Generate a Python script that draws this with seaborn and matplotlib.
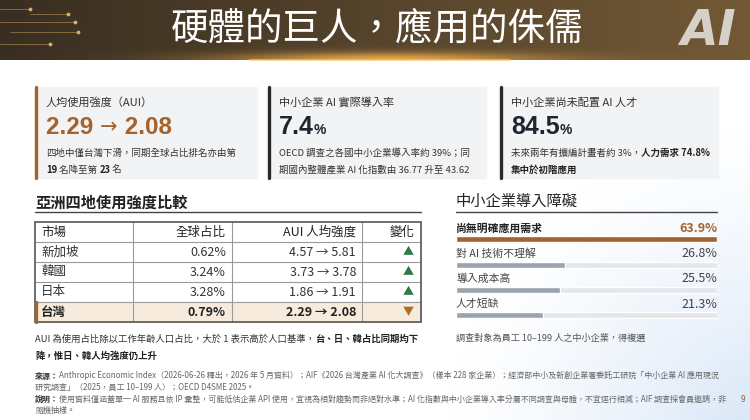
import numpy as np
import pandas as pd
import matplotlib
matplotlib.use('Agg')
import matplotlib.pyplot as plt
import seaborn as sns

# ---- 資料 ----
title = '硬體的巨人，應用的侏儒'

aui_before, aui_after = 2.29, 2.08
rank_before, rank_after = 19, 23
adopt_rate = 7.4
oecd_rate = 39
ai_index_before, ai_index_after = 36.77, 43.62
talent_gap = 84.5
expand_plan = 3
junior_demand = 74.8

table_header = ['市場', '全球占比', 'AUI 人均強度', '變化']
markets = ['新加坡', '韓國', '日本', '台灣']
global_share = [0.62, 3.24, 3.28, 0.79]
aui_2025 = [4.57, 3.73, 1.86, 2.29]
aui_2026 = [5.81, 3.78, 1.91, 2.08]

barriers = ['尚無明確應用需求', '對 AI 技術不理解', '導入成本高', '人才短缺']
barrier_pct = [63.9, 26.8, 25.5, 21.3]

# ---- 樣式 ----
sns.set_theme(style='white')
plt.rcParams['font.family'] = ['Noto Sans CJK TC', 'DejaVu Sans']
plt.rcParams['axes.unicode_minus'] = False

BROWN = '#a5622b'
DARK = '#1f2430'
GRAY = '#555555'
CARD = '#f2f3f5'
NUM_FONT = ['Liberation Sans', 'Noto Sans CJK TC', 'DejaVu Sans']

fig = plt.figure(figsize=(7.5, 4.2), dpi=100)
fig.patch.set_facecolor('white')
ov = fig.add_axes([0, 0, 1, 1])
ov.set_xlim(0, 750)
ov.set_ylim(420, 0)
ov.axis('off')
renderer = fig.canvas.get_renderer()


def rich(x, y, parts, size, va='baseline', family=None):
    # 依序接續繪製不同粗細 / 顏色 / 字級 / 字型的文字片段
    for part in parts:
        s, weight, color = part[:3]
        fs = part[3] if len(part) > 3 and part[3] else size
        fam = part[4] if len(part) > 4 else family
        kw = {'family': fam} if fam else {}
        t = ov.text(x, y, s, fontsize=fs, fontweight=weight, color=color,
                    ha='left', va=va, zorder=5, **kw)
        x += t.get_window_extent(renderer).width
    return x


# 背景右下角的淡藍光暈
yy, xx = np.mgrid[0:420, 0:750]
d = np.hypot(xx - 770, yy - 450) / 330
glow = np.zeros((420, 750, 4))
glow[..., 0], glow[..., 1], glow[..., 2] = 0.78, 0.86, 0.96
glow[..., 3] = np.clip(1 - d, 0, 1) ** 1.3 * 0.75
ov.imshow(glow, extent=(0, 750, 420, 0), aspect='auto', zorder=0)

# 標題列漸層
hx = np.linspace(0, 1, 750)[None, :, None]
hy = np.linspace(0, 1, 60)[:, None, None]
left = np.array([0.22, 0.18, 0.13])
right = np.array([0.45, 0.35, 0.21])
head = left + (right - left) * hx + 0 * hy
spot = np.exp(-((np.arange(750) - 380) / 160) ** 2)[None, :, None] * np.exp(-((1 - hy) / 0.12) ** 2)
head = np.clip(head + spot * np.array([0.55, 0.38, 0.12]), 0, 1)
ov.imshow(head, extent=(0, 750, 60, 0), aspect='auto', zorder=1)
ov.plot([250, 510], [59.5, 59.5], color='#f4c46a', lw=1.2, alpha=0.8, zorder=2)
for yl, x0, x1 in [(9, 0, 30), (14, 30, 68), (22, 0, 75), (32, 10, 78), (44, 0, 50)]:
    ov.plot([x0, x1], [yl, yl], color='#c9a25a', lw=0.6, alpha=0.6, zorder=2)
    ov.plot([x1], [yl], 'o', ms=1.8, color='#e8c072', alpha=0.8, zorder=2)
ov.text(377, 29, title, fontsize=27, color='white', ha='center', va='center', zorder=5)
ov.text(708, 31, 'AI', fontsize=35, color='#d5d0c8', fontweight='bold', fontstyle='italic',
        family='DejaVu Sans', ha='center', va='center', zorder=5)

# ---- 三張指標卡 ----
cards = [(35, 257, BROWN), (268, 486, '#2a2a2a'), (500, 718, '#2a2a2a')]
for x0, x1, edge in cards:
    ov.add_patch(plt.Rectangle((x0, 87), x1 - x0, 91, color=CARD, zorder=2))
    ov.plot([x0 + 1, x0 + 1], [87, 178], color=edge, lw=2.4, zorder=3)

ov.text(46, 105.5, '人均使用強度（AUI）', fontsize=8, color='#333', va='baseline', zorder=5)
rich(46, 133.5, [(f'{aui_before:.2f} ', 'bold', BROWN),
                 ('→', 'normal', BROWN, 15, 'DejaVu Sans'),
                 (f' {aui_after:.2f}', 'bold', BROWN)], 17.5, family=NUM_FONT)
rich(46, 156, [('四地中僅台灣下滑，同期全球占比排名亦由第', 'normal', '#333')], 6.8)
rich(46, 173, [(f'{rank_before}', 'bold', '#222'), (' 名降至第 ', 'normal', '#333'),
               (f'{rank_after}', 'bold', '#222'), (' 名', 'normal', '#333')], 6.8)

ov.text(279, 105.5, '中小企業 AI 實際導入率', fontsize=8, color='#333', va='baseline', zorder=5)
rich(279, 133.5, [(f'{adopt_rate}', 'bold', DARK), ('%', 'bold', DARK, 10)], 18, family=NUM_FONT)
rich(279, 156, [(f'OECD 調查之各國中小企業導入率約 {oecd_rate}%；同', 'normal', '#333')], 6.8)
rich(279, 173, [(f'期國內整體產業 AI 化指數由 {ai_index_before} 升至 {ai_index_after}', 'normal', '#333')], 6.8)

ov.text(511, 105.5, '中小企業尚未配置 AI 人才', fontsize=8, color='#333', va='baseline', zorder=5)
rich(511, 133.5, [(f'{talent_gap}', 'bold', DARK), ('%', 'bold', DARK, 10)], 18, family=NUM_FONT)
rich(511, 156, [(f'未來兩年有擴編計畫者約 {expand_plan}%，', 'normal', '#333'),
                (f'人力需求 {junior_demand}%', 'bold', '#222')], 6.8)
rich(511, 173, [('集中於初階應用', 'bold', '#222')], 6.8)

# ---- 左：亞洲四地表格 ----
ov.text(35, 203, '亞洲四地使用強度比較', fontsize=11, fontweight='bold', color='#222',
        va='center', zorder=5)
ov.plot([35, 421], [211.5, 211.5], color='#444', lw=1, zorder=3)

col_x = [35, 133, 232, 362, 421]
row_top, row_h = 222, 20
n_rows = len(markets) + 1
tw = markets.index('台灣') + 1
ov.add_patch(plt.Rectangle((35, row_top + tw * row_h), 386, row_h, color='#f6ebdd', zorder=2))
ov.add_patch(plt.Rectangle((35, row_top), 386, n_rows * row_h, fill=False,
                           ec='#555', lw=1.2, zorder=4))
for r in range(1, n_rows):
    ov.plot([35, 421], [row_top + r * row_h] * 2, color='#9a9a9a', lw=0.8, zorder=3)
for cx in col_x[1:-1]:
    ov.plot([cx, cx], [row_top, row_top + n_rows * row_h], color='#9a9a9a', lw=0.8, zorder=3)
ov.plot([36, 36], [row_top + tw * row_h, row_top + (tw + 1) * row_h], color=BROWN, lw=2.4, zorder=5)

hy0 = row_top + row_h / 2
ov.text(41, hy0, table_header[0], fontsize=9, color='#222', va='center', zorder=5)
ov.text(226, hy0, table_header[1], fontsize=9, color='#222', va='center', ha='right', zorder=5)
ov.text(356, hy0, table_header[2], fontsize=9, color='#222', va='center', ha='right', zorder=5)
ov.text(415, hy0, table_header[3], fontsize=9, color='#222', va='center', ha='right', zorder=5)

df = pd.DataFrame({'market': markets, 'share': global_share, 'a25': aui_2025, 'a26': aui_2026})
for i, row in df.iterrows():
    yc = row_top + (i + 1.5) * row_h
    hl = row['market'] == '台灣'
    w = 'bold' if hl else 'normal'
    c = '#222' if hl else '#333'
    ov.text(41, yc, row['market'], fontsize=9, color=c, fontweight=w, va='center', zorder=5)
    ov.text(226, yc, f"{row['share']:.2f}%", fontsize=9, color=c, fontweight=w,
            va='center', ha='right', zorder=5)
    ov.text(356, yc, f"{row['a25']:.2f} → {row['a26']:.2f}", fontsize=9, color=c,
            fontweight=w, va='center', ha='right', zorder=5)
    up = row['a26'] > row['a25']
    ov.text(408, yc, '▲' if up else '▼', fontsize=8, color='#2f7a4a' if up else '#b06a2c',
            va='center', ha='center', zorder=5)

rich(35, 341.5, [('AUI 為使用占比除以工作年齡人口占比，大於 1 表示高於人口基準，', 'normal', '#333'),
                 ('台、日、韓占比同期均下', 'bold', '#222')], 6.75)
rich(35, 358.5, [('降，惟日、韓人均強度仍上升', 'bold', '#222')], 6.75)

# ---- 右：中小企業導入障礙 (seaborn 橫條圖) ----
ov.text(456, 201, '中小企業導入障礙', fontsize=11, fontweight='medium', color='#222',
        va='center', zorder=5)
ov.plot([456, 717], [211.5, 211.5], color='#444', lw=1, zorder=3)

row_px = 25.3
top_px = 239.3 - row_px / 2
ax = fig.add_axes([456 / 750, 1 - (top_px + 4 * row_px) / 420, (717 - 456) / 750, 4 * row_px / 420])
ax.set_zorder(3)
ax.patch.set_alpha(0)
vmax = max(barrier_pct)
bar_df = pd.DataFrame({'barrier': barriers, 'pct': barrier_pct, 'track': vmax})
sns.barplot(data=bar_df, x='track', y='barrier', orient='h', color='#e3e6ea',
            width=0.24, saturation=1, ax=ax)
palette = [BROWN] + ['#9aa4b0'] * (len(barriers) - 1)
sns.barplot(data=bar_df, x='pct', y='barrier', hue='barrier', palette=palette, orient='h',
            width=0.24, saturation=1, legend=False, ax=ax)
ax.set_xlim(0, vmax)
ax.set_ylim(len(barriers) - 0.5, -0.5)
ax.set_axis_off()
for i, (lab, v) in enumerate(zip(barriers, barrier_pct)):
    first = i == 0
    ax.text(0, i - 0.44, lab, fontsize=7.8, fontweight='bold' if first else 'normal',
            color='#222' if first else '#444', va='center', ha='left')
    ax.text(vmax, i - 0.44, f'{v}%', fontsize=9, fontweight='bold' if first else 'normal',
            color=BROWN if first else '#444', va='center', ha='right')

ov.text(456, 338.5, '調查對象為員工 10–199 人之中小企業，得複選', fontsize=6.6, color=GRAY,
        va='center', zorder=5)

# ---- 頁尾 ----
FS = 5.75
rich(35, 378.5, [('來源：', 'bold', '#333'),
                 ('Anthropic Economic Index（2026-06-26 釋出，2026 年 5 月資料）；AIF《2026 台灣產業 AI 化大調查》'
                  '（樣本 228 家企業）；經濟部中小及新創企業署委託工研院「中小企業 AI 應用現況', 'normal', '#666')], FS)
rich(35, 390, [('研究調查」（2025，員工 10–199 人）；OECD D4SME 2025。', 'normal', '#666')], FS)
rich(35, 401.5, [('說明：', 'bold', '#333'),
                 ('使用資料僅涵蓋單一 AI 服務且依 IP 彙整，可能低估企業 API 使用，宜視為相對趨勢而非絕對水準；'
                  'AI 化指數與中小企業導入率分屬不同調查與母體，不宜逕行相減；AIF 調查採會員邀請，非', 'normal', '#666')], FS)
rich(35, 413, [('隨機抽樣。', 'normal', '#666')], FS)
ov.text(743, 399, '9', fontsize=6, color='#8a6a3a', ha='center', va='center', zorder=5)

fig.savefig('out.png', dpi=100)
